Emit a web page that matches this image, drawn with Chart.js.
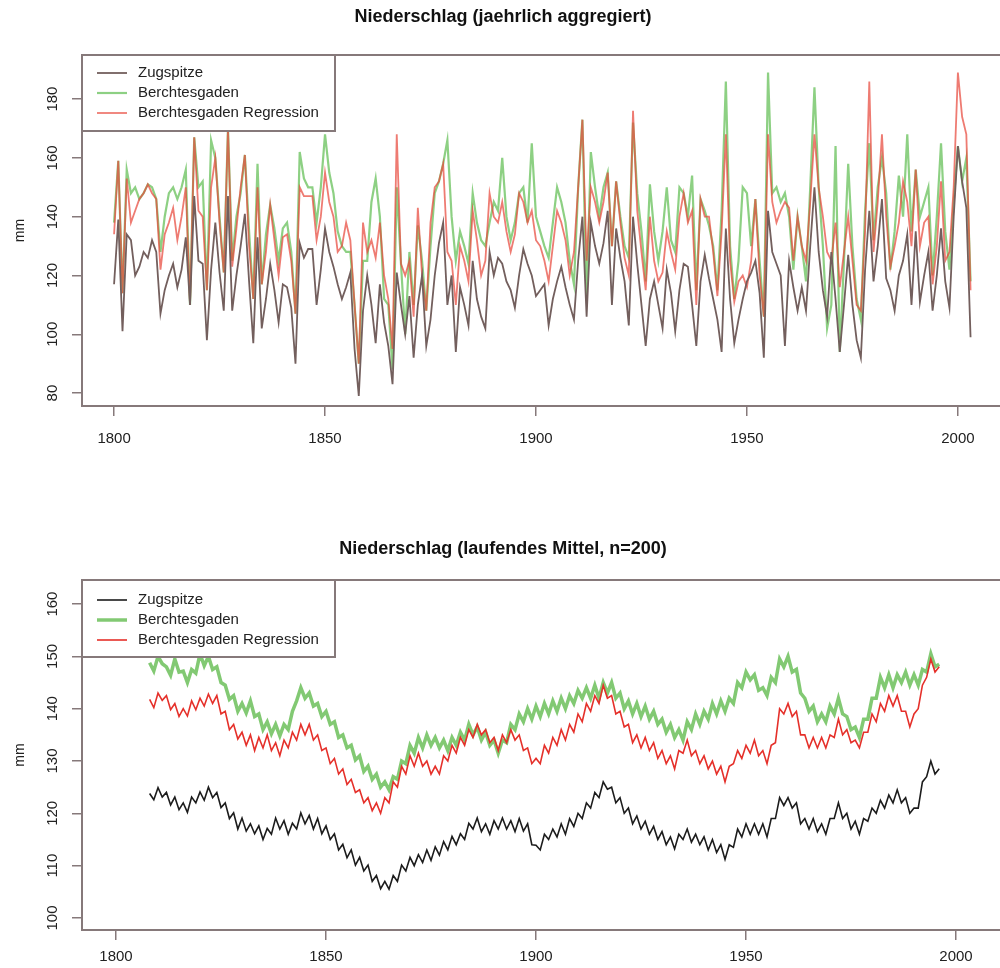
<!DOCTYPE html>
<html>
<head>
<meta charset="utf-8">
<script src="https://cdn.jsdelivr.net/npm/chart.js@4.4.1/dist/chart.umd.min.js"></script>
<style>
    html, body { margin: 0; padding: 0; background: #fff; overflow: hidden; }
    body { width: 1000px; height: 968px; position: relative; }
    canvas { position: absolute; left: 0; }
    #annualChart { top: 0; }
    #meanChart { top: 500px; }
</style>
</head>
<body>
<canvas id="annualChart" width="1006" height="470"></canvas>
<canvas id="meanChart" width="1006" height="468"></canvas>
<script>
// series names (legend)
const seriesNames = ['Zugspitze', 'Berchtesgaden', 'Berchtesgaden Regression'];

// ---- top panel: yearly sums, 1800 .. 2003
const annualStart = 1800;
const annualZugspitze = [
    117,139,101,134,132,120,123,128,126,132,
    128,107,115,120,124,116,122,133,110,147,
    125,124,98,122,138,121,108,147,108,120,
    130,141,118,97,133,102,112,124,115,104,
    117,116,109,90,131,126,129,129,110,122,
    136,128,123,117,112,116,121,95,79,108,
    120,110,97,117,104,96,83,121,110,100,
    113,92,110,120,96,105,120,131,138,110,
    120,94,116,110,103,125,112,106,102,128,
    120,126,124,118,115,109,120,129,124,120,
    113,115,117,103,112,118,123,116,110,105,
    125,140,106,138,130,124,131,142,110,136,
    126,118,103,140,124,110,96,112,118,110,
    102,122,114,101,115,124,123,110,96,118,
    127,119,112,105,94,136,112,97,105,112,
    118,121,125,114,92,142,128,124,120,96,
    125,116,108,116,108,130,150,128,115,106,
    128,112,94,110,127,110,98,92,122,142,
    118,130,146,119,115,108,120,125,134,110,
    135,111,120,128,108,120,136,118,109,140,
    164,152,143,99
];
const annualBerchtesgaden = [
    138,159,114,156,148,150,146,148,151,150,
    146,128,140,148,150,146,150,156,110,167,
    150,152,115,166,160,140,121,170,125,140,
    148,161,135,112,158,117,134,144,136,125,
    136,138,128,107,162,153,150,150,138,150,
    168,155,148,135,130,128,128,110,90,125,
    125,145,153,140,112,110,88,150,124,100,
    128,110,137,125,108,130,148,152,158,166,
    140,125,135,130,124,148,138,132,130,138,
    145,142,160,140,132,138,148,150,138,165,
    140,135,130,126,138,150,145,138,125,117,
    150,173,112,162,150,140,150,155,130,152,
    140,130,126,172,148,135,118,151,135,125,
    135,150,132,128,150,148,140,154,115,146,
    142,137,130,115,142,186,130,112,125,150,
    148,130,146,125,106,189,148,150,145,148,
    140,122,140,130,118,150,184,150,130,102,
    110,164,94,125,158,130,112,105,142,165,
    132,150,160,148,122,135,154,140,168,135,
    156,140,145,150,120,140,165,135,122,145,
    164,152,160,118
];
const annualRegression = [
    134,159,114,153,138,142,146,148,151,148,
    146,122,134,138,143,132,140,150,110,167,
    142,140,115,150,160,138,121,170,123,136,
    150,161,130,112,150,117,128,144,132,120,
    133,134,125,107,150,147,147,147,132,140,
    155,145,140,128,130,138,132,110,90,138,
    128,132,126,138,120,112,95,168,124,120,
    125,106,143,120,108,138,150,152,158,128,
    125,110,130,125,118,142,132,120,125,148,
    140,138,145,135,128,134,148,145,138,142,
    132,130,125,118,130,142,138,132,120,128,
    150,173,125,150,145,138,145,155,130,152,
    138,126,120,176,142,128,115,140,125,118,
    121,135,128,122,140,148,138,142,110,146,
    140,140,128,113,135,168,125,111,118,120,
    116,125,146,120,106,168,145,138,142,145,
    143,125,140,130,125,145,168,150,140,128,
    125,138,116,128,140,125,110,108,135,186,
    128,145,168,140,123,130,138,152,145,130,
    156,130,138,140,117,130,152,125,128,150,
    189,174,168,115
];

// ---- bottom panel: running mean (n=200), 1808 .. 1996
const meanStart = 1808;
const meanZugspitze = [
    123.8,122.6,
    124.9,123.1,124.0,121.6,123.1,120.7,122.0,120.2,123.1,122.0,
    124.1,122.5,125.0,123.0,124.0,121.1,122.0,119.0,120.1,117.0,
    119.1,116.6,118.0,116.1,117.6,115.0,117.1,116.0,119.1,117.0,
    118.6,116.0,118.1,117.0,120.1,118.0,119.6,117.0,119.0,116.1,
    117.6,115.0,116.1,113.0,114.1,111.5,113.0,110.1,111.6,109.0,
    110.1,107.0,108.1,105.6,107.0,105.5,108.1,107.0,110.1,109.0,
    111.6,110.0,112.1,110.6,113.0,111.0,113.6,112.0,114.6,113.0,
    115.6,114.0,116.1,115.0,118.1,117.0,119.1,116.5,118.0,116.0,
    118.6,117.0,119.1,117.0,118.6,116.5,119.0,116.6,118.0,114.0,
    113.9,113.0,116.0,115.0,117.0,115.5,118.0,116.0,119.0,117.5,
    120.0,119.0,122.0,121.0,124.0,123.0,126.0,124.6,125.0,122.0,
    123.0,120.0,121.0,118.0,119.5,117.0,118.5,116.0,117.5,115.0,
    116.5,114.0,115.5,113.2,116.0,115.0,117.0,114.5,116.0,114.0,
    115.5,113.0,115.0,112.5,114.0,111.2,114.0,113.5,117.0,115.5,
    118.0,116.0,118.0,116.0,118.0,115.5,119.0,119.0,123.0,121.5,
    123.0,121.0,122.0,118.0,119.0,117.0,119.0,116.5,118.0,116.0,
    119.0,119.0,122.0,119.0,120.0,117.0,118.5,116.0,119.0,118.5,
    121.0,120.0,122.5,121.0,123.5,122.0,124.5,122.0,123.0,120.0,
    121.0,121.0,126.0,127.0,130.0,127.5,128.5
];
const meanBerchtesgaden = [
    148.8,147.2,
    150.0,148.6,148.0,146.4,149.5,147.0,147.2,145.0,147.5,146.8,
    150.5,148.2,150.0,147.5,148.0,145.0,144.5,141.8,142.5,139.5,
    141.0,139.2,141.5,138.5,139.0,136.0,137.5,135.2,137.0,134.8,
    137.0,136.0,139.5,141.5,144.0,142.0,143.0,140.5,141.0,138.5,
    139.5,137.0,137.5,134.5,135.0,132.5,133.0,130.2,131.0,128.0,
    129.0,126.5,127.5,125.0,126.0,124.5,127.0,126.5,130.0,129.5,
    133.0,131.5,134.5,132.5,135.0,133.0,134.5,132.5,134.0,132.0,
    134.5,133.0,135.5,134.0,137.0,135.0,136.5,134.0,135.5,133.0,
    134.0,131.5,134.0,133.5,137.0,136.0,139.0,137.5,140.0,138.0,
    140.5,138.5,141.0,139.0,141.5,139.5,142.0,140.0,142.5,141.0,
    143.5,142.0,144.0,142.0,144.5,142.0,145.0,143.0,145.0,142.0,
    143.0,140.0,141.5,139.0,141.0,138.5,140.5,138.0,139.5,137.0,
    138.0,135.5,137.0,134.5,136.0,134.0,137.5,136.0,139.0,137.0,
    139.5,138.0,141.0,139.0,141.5,139.5,142.0,141.0,145.0,144.0,
    147.0,145.5,146.5,143.5,144.0,142.5,146.0,145.0,149.5,148.0,
    150.0,147.0,147.5,143.0,142.0,139.5,140.5,137.5,139.0,137.5,
    140.5,139.0,142.0,139.0,138.5,136.0,136.5,134.5,138.0,138.0,
    142.0,142.0,146.0,144.0,146.5,144.0,146.5,145.0,147.0,144.5,
    146.5,144.5,147.5,147.0,150.5,148.0,148.5
];
const meanRegression = [
    141.8,140.2,
    143.0,141.6,142.5,139.8,141.0,138.5,140.0,138.6,141.5,139.8,
    142.0,140.5,142.8,141.0,142.5,139.0,139.5,136.0,137.0,134.2,
    135.5,133.0,135.0,132.0,134.5,132.5,135.0,132.0,133.5,131.0,
    134.0,132.5,135.5,134.0,137.0,135.0,137.0,134.0,135.0,132.0,
    132.5,129.5,130.5,127.5,128.5,125.5,126.5,124.0,124.5,122.0,
    123.0,120.5,122.0,120.0,123.0,122.0,126.0,125.0,129.0,127.5,
    131.0,129.0,131.5,129.0,130.0,127.5,129.0,127.5,131.0,130.0,
    133.0,131.5,134.5,133.0,136.0,134.5,137.0,135.0,136.0,133.5,
    134.5,132.0,135.0,133.5,136.0,134.0,135.0,132.0,132.5,129.5,
    130.5,129.5,133.0,131.5,134.5,133.0,136.0,134.0,137.0,135.5,
    139.0,137.5,141.0,139.5,142.5,141.0,144.5,142.0,142.5,139.0,
    139.5,136.5,137.0,133.5,135.0,132.5,134.5,132.0,133.5,130.5,
    132.0,129.5,131.0,128.5,132.0,131.5,134.0,131.0,132.0,129.5,
    131.0,128.5,130.0,127.5,129.0,126.0,129.0,129.5,132.0,130.5,
    133.0,131.5,134.0,131.0,132.0,129.5,133.0,133.5,140.0,139.0,
    141.0,138.5,139.5,135.0,135.0,132.5,134.5,132.5,134.5,132.5,
    135.0,134.5,138.0,135.0,136.0,133.5,134.0,132.5,135.5,135.5,
    139.0,137.5,141.0,139.5,142.5,140.5,142.5,139.5,139.5,136.5,
    139.0,140.0,144.5,146.0,149.5,147.0,148.0
];

// axis ticks
const xTicks = [1800, 1850, 1900, 1950, 2000];
const annualYTicks = [80, 100, 120, 140, 160, 180];
const meanYTicks = [100, 110, 120, 130, 140, 150, 160];

const fontFamily = '"Liberation Sans", Arial, Helvetica, sans-serif';
const boxColor = '#86797a';
const textColor = '#222';

Chart.defaults.font.family = fontFamily;

// year/value pairs for the linear x axis
function toPoints(start, values) {
    return values.map((v, i) => ({ x: start + i, y: v }));
}

// frame around the plot, rotated y labels (R style) and legend box
const rFrame = {
    id: 'rFrame',
    afterDraw(chart, args, opts) {
        const { ctx, chartArea: a } = chart;
        const y = chart.scales.y;
        ctx.save();

        // legend (drawn first, frame goes over its border)
        const lx = a.left, ly = a.top, lw = 253, lh = opts.legendHeight;
        ctx.fillStyle = '#fff';
        ctx.fillRect(lx, ly, lw, lh);
        ctx.strokeStyle = boxColor;
        ctx.lineWidth = 2;
        ctx.strokeRect(lx, ly, lw, lh);
        ctx.font = '15px ' + fontFamily;
        ctx.textAlign = 'left';
        ctx.textBaseline = 'middle';
        chart.data.datasets.forEach((ds, i) => {
            const rowY = ly + opts.legendFirstRow + i * 20;
            ctx.strokeStyle = ds.borderColor;
            ctx.lineWidth = ds.borderWidth;
            ctx.beginPath();
            ctx.moveTo(lx + 15, rowY);
            ctx.lineTo(lx + 45, rowY);
            ctx.stroke();
            ctx.fillStyle = textColor;
            ctx.fillText(ds.label, lx + 56, rowY);
        });

        // box
        ctx.strokeStyle = boxColor;
        ctx.lineWidth = 2;
        ctx.strokeRect(a.left, a.top, a.right - a.left, a.bottom - a.top);

        // y tick labels, turned like in R
        ctx.fillStyle = textColor;
        ctx.font = '15px ' + fontFamily;
        ctx.textAlign = 'center';
        ctx.textBaseline = 'middle';
        y.ticks.forEach(t => {
            const py = y.getPixelForValue(t.value);
            ctx.save();
            ctx.translate(a.left - 29, py);
            ctx.rotate(-Math.PI / 2);
            ctx.fillText(String(t.value), 0, 0);
            ctx.restore();
        });
        ctx.restore();
    }
};

function renderPanel(canvasId, cfg) {
    const ctx = document.getElementById(canvasId).getContext('2d');

    return new Chart(ctx, {
        type: 'line',
        data: { datasets: cfg.datasets },
        options: {
            responsive: false,
            animation: false,
            events: [],
            layout: { padding: 0 },
            elements: { point: { radius: 0 }, line: { tension: 0 } },
            plugins: {
                legend: { display: false },
                tooltip: { enabled: false },
                title: {
                    display: true,
                    text: cfg.title,
                    color: '#111',
                    font: { size: 18, weight: 'bold', family: fontFamily },
                    padding: cfg.titlePadding
                },
                rFrame: {
                    legendHeight: cfg.legendHeight,
                    legendFirstRow: cfg.legendFirstRow
                }
            },
            scales: {
                x: {
                    type: 'linear',
                    min: cfg.xMin,
                    max: cfg.xMax,
                    afterBuildTicks: (scale) => { scale.ticks = xTicks.map(v => ({ value: v })); },
                    afterFit: (scale) => { scale.height = cfg.xHeight; },
                    border: { display: false },
                    grid: {
                        drawOnChartArea: false,
                        drawTicks: true,
                        tickLength: 10,
                        color: boxColor,
                        lineWidth: 1.5
                    },
                    ticks: {
                        color: textColor,
                        font: { size: 15 },
                        padding: cfg.xLabelPad,
                        maxRotation: 0,
                        autoSkip: false,
                        callback: (v) => String(v)
                    }
                },
                y: {
                    min: cfg.yMin,
                    max: cfg.yMax,
                    afterBuildTicks: (scale) => { scale.ticks = cfg.yTicks.map(v => ({ value: v })); },
                    afterFit: (scale) => { scale.width = 82; },
                    border: { display: false },
                    grid: {
                        drawOnChartArea: false,
                        drawTicks: true,
                        tickLength: 10,
                        color: boxColor,
                        lineWidth: 1.5
                    },
                    ticks: { display: false },
                    title: {
                        display: true,
                        text: 'mm',
                        color: textColor,
                        font: { size: 14 },
                        padding: { top: 12, bottom: 0 }
                    }
                }
            }
        },
        plugins: [rFrame]
    });
}

document.addEventListener('DOMContentLoaded', () => {
    // jaehrlich aggregiert
    renderPanel('annualChart', {
        title: 'Niederschlag (jaehrlich aggregiert)',
        titlePadding: { top: 6, bottom: 27.4 },
        xMin: 1792.4, xMax: 2011.4, xHeight: 64, xLabelPad: 14,
        yMin: 75.6, yMax: 195, yTicks: annualYTicks,
        legendHeight: 76, legendFirstRow: 18,
        datasets: [
            { label: seriesNames[0], data: toPoints(annualStart, annualZugspitze),
              borderColor: '#735f5d', borderWidth: 1.8, order: 0 },
            { label: seriesNames[1], data: toPoints(annualStart, annualBerchtesgaden),
              borderColor: 'rgba(112,196,100,0.8)', borderWidth: 2.2, order: 2 },
            { label: seriesNames[2], data: toPoints(annualStart, annualRegression),
              borderColor: 'rgba(232,72,60,0.72)', borderWidth: 1.8, order: 1 }
        ]
    });

    // laufendes Mittel
    renderPanel('meanChart', {
        title: 'Niederschlag (laufendes Mittel, n=200)',
        titlePadding: { top: 38, bottom: 20.4 },
        xMin: 1791.9, xMax: 2011.9, xHeight: 38, xLabelPad: 8,
        yMin: 97.7, yMax: 164.6, yTicks: meanYTicks,
        legendHeight: 77, legendFirstRow: 20,
        datasets: [
            { label: seriesNames[0], data: toPoints(meanStart, meanZugspitze),
              borderColor: '#1c1c1c', borderWidth: 1.6, order: 0 },
            { label: seriesNames[1], data: toPoints(meanStart, meanBerchtesgaden),
              borderColor: 'rgba(108,192,90,0.85)', borderWidth: 3.5, order: 2 },
            { label: seriesNames[2], data: toPoints(meanStart, meanRegression),
              borderColor: '#e5302a', borderWidth: 1.6, order: 1 }
        ]
    });
});
</script>
</body>
</html>
